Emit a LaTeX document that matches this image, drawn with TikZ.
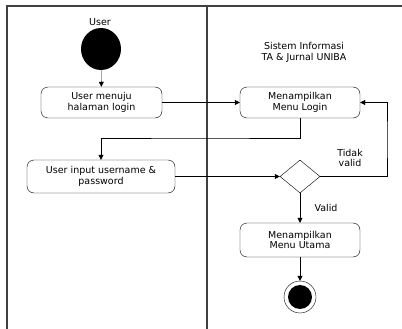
\documentclass[tikz,border=0pt]{standalone}
\usepackage{fontspec}
\setmainfont{DejaVu Sans}
\usetikzlibrary{arrows.meta,shapes.geometric}

\begin{document}
\begin{tikzpicture}[x=1pt,y=-1pt,
    font=\fontsize{9.5}{10.8}\selectfont,
    act/.style={draw,thin,rounded corners=7pt,align=center,inner sep=0pt},
    flow/.style={-{Triangle[length=5pt,width=5pt]},thin}]
      \useasboundingbox (0,0) rectangle (402,329);
      % lanes
      \draw[line width=1.1pt,black!75] (7,329) -- (7,6) -- (402,6);
      \draw[line width=1.1pt,black!75] (207,6) -- (207,329);
      \node (user) at (100,22) {User};
      \node[align=center] (sistem) at (304,52) {Sistem Informasi\\TA \& Jurnal UNIBA};
      % nodes
      \node[ellipse,fill=black,minimum width=40pt,minimum height=42pt,inner sep=0pt] (mulai) at (101,49) {};
      \node[act,minimum width=121pt,minimum height=31pt] (login) at (101.5,102.5) {User menuju\\halaman login};
      \node[act,minimum width=120pt,minimum height=31pt] (menulogin) at (300,102.5) {Menampilkan\\Menu Login};
      \node[act,minimum width=148pt,minimum height=33pt] (input) at (101,176.5) {User input username \&\\password};
      \node[diamond,draw,thin,minimum width=40pt,minimum height=33pt,inner sep=0pt] (cek) at (300,176.5) {};
      \node[act,minimum width=120pt,minimum height=34pt] (utama) at (300,240) {Menampilkan\\Menu Utama};
      \node[circle,draw,thin,minimum size=32pt,inner sep=0pt] (akhir) at (300,297) {};
      \fill (akhir) circle (12pt);
      \coordinate (belok) at (200,138);
      \coordinate (kanan) at (387,140);
      % connectors
      \draw[flow] (mulai) -- (login);
      \draw[flow] (login) -- (menulogin);
      \draw[flow] (menulogin.south) |- (belok) -| (input.north);
      \draw[flow] (input) -- (cek);
      \draw[flow] (cek.east) -| (kanan) |- (menulogin.east);
      \draw[flow] (cek) -- (utama);
      \draw[flow] (utama) -- (akhir);
      \node[align=center] (tidak) at (350,158) {Tidak\\valid};
      \node (valid) at (326,208) {Valid};
    \end{tikzpicture}
\end{document}
